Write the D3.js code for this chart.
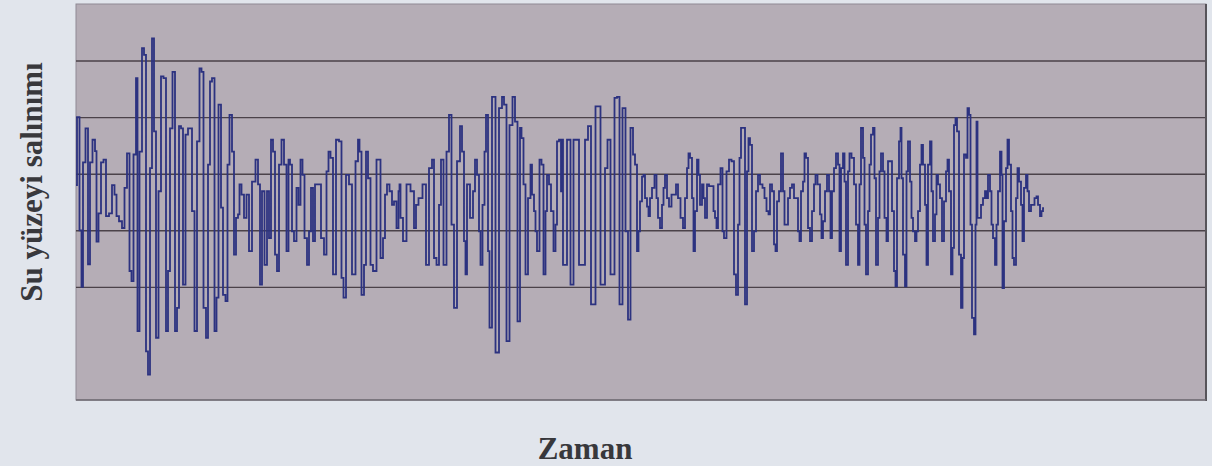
<!DOCTYPE html>
<html>
<head>
<meta charset="utf-8">
<script src="https://cdn.jsdelivr.net/npm/d3@7"></script>
<style>
  body { margin: 0; background: #e1e5ec; }
  svg { display: block; }
</style>
</head>
<body>
<div id="chart"></div>
<script>
// water surface oscillation record
// zaman = time (s), salinim = surface elevation (cm)

var zaman1 = [0, 0.2, 0.5, 0.6, 0.8, 1.1, 1.3, 1.5, 1.8, 2.0, 2.1, 2.4, 2.6, 2.9, 3.1, 3.5, 3.7, 4.0, 4.1, 4.5,
  4.7, 5.0, 5.2, 5.5, 5.6, 5.9, 6.1, 6.2, 6.5, 6.7, 6.9, 7.1, 7.3, 7.5, 7.7, 7.9, 8.1, 8.4, 8.6, 8.9,
  9.1, 9.3, 9.5, 9.8, 10.0, 10.2, 10.4, 10.6, 10.8, 11.1, 11.3, 11.5, 11.7, 12.0, 12.2, 12.5, 12.6, 12.9, 13.1, 13.3,
  13.5, 13.7, 14.0, 14.1, 14.4, 14.6, 14.8, 15.1, 15.2, 15.5, 15.7, 15.9, 16.1];
var salinim1 = [-2, 10, -10, -20, 2, 8, -16, 2, 6, 4, -12, -7, 2, 2.5, -7.5, -7, -2, -3.7, -7.5, -8.4,
  -9.6, -2.5, 3.6, -17.2, -19, 3.4, 16.9, -27.8, 3.9, 22.2, 21, -31.4, -35.5, 1, 23.9, 7.5, -29, -3.1, 17.2, 16.9,
  -27.8, -17.2, 8, 18, -27.8, -23.7, 8.4, 8, -19.6, 6.9, 8, 8, -6.6, -27.8, 5.7, 18.6, 18, -23.7, -29, 1.6,
  16.3, 16.9, -27.8, -21.9, 12.2, -6, -21.4, -22.5, 1.6, 10.4, 3.9, -14.3, -7.8];

var zaman2 = [16.3, 16.4, 16.7, 16.9, 17.2, 17.4, 17.8, 18.1, 18.3, 18.5, 18.7, 19.0, 19.2, 19.4, 19.6, 19.8, 20.0, 20.2, 20.4, 20.7,
  20.9, 21.2, 21.3, 21.5, 21.7, 21.9, 22.2, 22.3, 22.6, 22.7, 23.0, 23.2, 23.4, 23.6, 23.8, 24.0, 24.3, 24.7, 24.9, 25.2,
  25.3, 25.6, 25.8, 26.2, 26.4, 26.7, 26.8, 27.2, 27.4, 27.8, 28.1, 28.3, 28.4, 28.7, 28.9, 29.1, 29.3, 29.6, 29.8, 30.3,
  30.6, 30.8, 31.0, 31.2, 31.5, 31.7, 31.9, 32.2, 32.3];
var salinim2 = [-7.2, -1.9, -3.7, -7.8, -3.7, -13.7, -1.4, 2.5, -1.9, -19.6, -3.1, -16.1, -3.1, -11.4, 6, 3.9, -14.3, -17.2, 1.6, 6,
  1.6, -13.7, 2.5, 1.6, -10.2, -11.9, -2.5, -5.5, 2.5, -0.2, -11.4, -16.1, -10.2, -2.5, -11.9, -1.9, -1.9, -11.4, -14.3, 0.4,
  3.9, 2.8, -17.8, 6, 5.7, -18.4, -21.9, -0.2, -1.9, -17.8, 2.2, 6, 3.9, -21.4, -16.1, 3.9, -0.8, -16.1, -17.2, 2.5,
  -14.9, -11.4, -3.7, -1.9, -3.1, -5.5, -4.9, -9.6, -3.1];

var zaman3 = [32.4, 32.5, 32.9, 33.2, 33.7, 33.9, 34.1, 34.4, 34.9, 35.1, 35.5, 35.7, 35.9, 36.2, 36.4, 36.6, 36.9, 37.2, 37.4, 37.7,
  37.9, 38.3, 38.5, 38.7, 38.9, 39.0, 39.2, 39.6, 39.8, 40.0, 40.2, 40.4, 40.5, 40.8, 40.9, 41.1, 41.3, 41.4, 41.8, 42.1,
  42.5, 42.7, 42.9, 43.2, 43.5, 43.8, 44.0, 44.3, 44.5, 44.6, 44.9, 45.0, 45.4, 45.5, 45.7, 45.9, 46.0, 46.2, 46.5, 46.6,
  46.9, 47.0, 47.2, 47.4, 47.6, 47.9, 48.0, 48.2, 48.4, 48.6];
var salinim3 = [-1.9, -7.8, -11.9, -1.9, -3.1, -9.6, -5.5, -4.3, -1.9, -16.1, 1, 2.5, -14.9, -16.1, -5.5, 2.5, -16.1, 3.9, 10.4, -9,
  -23.7, 2.2, 8.4, 3.9, -11.9, -17.8, -1.9, -7.8, -3.1, 2.5, -0.2, -10.2, -16.1, -5.5, 3.9, 10.4, -13.7, -27.2, 13.6, -31.6,
  11.6, 13.6, 12.2, -29.6, 8.6, 13.6, 9.2, -26.1, 8.1, 6.3, -1.9, -17.8, -4.3, 1.6, -3.7, -6.6, -10.2, -13.7, 2.5, 1.6,
  -17.8, -6.6, -0.2, -1.9, -6.6, -13.7, -9, 5.7, 6, -3.1];

var zaman4 = [48.5, 48.9, 49.3, 49.6, 49.9, 50.7, 51.1, 51.3, 51.7, 52.2, 52.7, 53.1, 53.2, 53.7, 54.0, 54.2, 54.5, 54.8, 55.1, 55.3,
  55.6, 55.8, 56.0, 56.2, 56.3, 56.5, 56.7, 56.8, 57.0, 57.2, 57.3, 57.5, 57.7, 58.0, 58.1, 58.3, 58.5, 58.7, 58.8, 59.0,
  59.2, 59.4, 59.7, 59.9, 60.1, 60.3, 60.6, 60.8, 61.0, 61.2, 61.3, 61.5, 61.7, 61.8, 62.0, 62.2, 62.3, 62.5, 62.7, 62.8,
  63.0, 63.2, 63.4, 63.7, 63.8, 64.0, 64.1, 64.3, 64.6, 64.7];
var salinim4 = [6, -16.1, 6, -19.6, 6, -16.1, 6, 8.4, -23.1, 11.9, -19.6, 1, 6, -17.8, 13.4, 13.6, -23.1, 11.6, -10.2, -25.8,
  8.1, 3.4, 1.6, -13.7, -10.2, -4.9, -0.5, -0.2, -4.3, -5.8, -7.5, -4.3, -2.5, -0.2, -4.3, -7.8, -9.6, -5.5, -2.5, -0.2,
  -4.3, -5.8, -3.7, -3.7, -1.9, -4.3, -7.8, -9.6, -4.3, 1, 3.6, 2.8, -4.3, -13.7, -6.6, 2.5, -0.2, -5.5, -1.9, -4.3,
  -7.8, -1.9, -2.2, -2.2, -6.6, -7.8, -9.6, -1.9, 1, -10.2];

var zaman5 = [64.9, 65.2, 65.4, 65.7, 65.9, 66.1, 66.3, 66.4, 66.6, 66.8, 67.0, 67.2, 67.3, 67.5, 67.7, 67.9, 68.1, 68.3, 68.5, 68.8,
  68.9, 69.2, 69.3, 69.5, 69.7, 69.9, 70.0, 70.2, 70.4, 70.6, 70.8, 70.9, 71.1, 71.3, 71.5, 71.7, 71.9, 72.1, 72.3, 72.4,
  72.6, 72.8, 72.9, 73.1, 73.3, 73.5, 73.7, 73.9, 74.0, 74.3, 74.5, 74.6, 74.8, 75.0, 75.2, 75.4, 75.5, 75.7, 75.9, 76.1,
  76.3, 76.4, 76.6, 76.8, 76.9, 77.1, 77.3, 77.4, 77.7, 77.9, 78.1, 78.3, 78.4, 78.6, 78.8, 78.9, 79.1, 79.3, 79.4, 79.6,
  79.8, 79.9, 80.1, 80.3, 80.4, 80.6, 80.8, 80.9];
var salinim5 = [-11.4, 0.4, 2.5, 2.2, -17.8, -21.4, -9, 2.8, 8.1, 8.1, -23.1, 0.4, 6.3, 5.1, -13.7, -10.2, -3.1, -0.2, -1.9, -2.5,
  -4.3, -6.6, -7.2, -1.9, -3.1, -12.5, -13.7, -4.9, -3.1, 3.6, -3.1, -9, -9, -4.3, -2.5, -1.9, -4.3, -4.3, -10.2, -11.9,
  -3.1, -1.4, 3.6, 2.8, -9.6, -11.9, -6.6, -1.9, -0.2, -1.9, -7.2, -11.4, -8.4, -3.1, -0.2, -3.1, -11.4, -3.1, 1, 3.6,
  1.6, -13.7, 1, 3.6, -1.4, -16.1, 0.4, 3.6, 2.8, -1.9, -9, -16.1, -1.9, 8.1, 2.8, -9, -17.8, -6.6, 1.6, 6.9,
  8.1, -0.8, -16.1, -7.8, 0.4, 3.6, 0.4, -7.8];

var zaman6 = [81.0, 81.1, 81.3, 81.5, 81.7, 81.9, 82.0, 82.2, 82.4, 82.5, 82.6, 82.8, 83.0, 83.1, 83.3, 83.5, 83.6, 83.8, 84.0, 84.1,
  84.3, 84.5, 84.6, 84.8, 85.0, 85.1, 85.3, 85.5, 85.6, 85.8, 86.0, 86.1, 86.3, 86.5, 86.7, 86.9, 87.1, 87.2, 87.4, 87.6,
  87.7, 87.9, 88.0, 88.2, 88.4, 88.6, 88.7, 88.9, 89.1, 89.2, 89.4, 89.5, 89.7, 89.9, 90.0, 90.1, 90.2, 90.4, 90.6, 90.8,
  91.0, 91.1, 91.3, 91.5, 91.6, 91.8, 92.0, 92.1, 92.3, 92.5, 92.6, 92.7, 92.9, 93.1, 93.2, 93.4, 93.6, 93.7, 93.9, 94.1,
  94.2, 94.4, 94.6, 94.7, 94.9, 95.1, 95.2, 95.4, 95.6, 95.7, 96.0, 96.1, 96.3, 96.5, 96.6, 96.8];
var salinim6 = [-7.8, -11.9, 2.2, 2.2, -6.6, -17.2, -19.9, -0.8, 5.7, 8.1, -0.8, -14.3, -19.9, 0.4, 5.7, -1.4, -7.8, -10.2, -11.9, -10.2,
  -6.6, 1.6, 5.1, 1.6, -5.5, -16.1, 1.6, 5.7, -3.1, -11.9, -7.2, -0.2, -1.9, -4.3, -11.9, -4.9, 0.4, 2.5, -3.1, -17.8,
  -13.1, 8.6, 9.8, 7.5, -14.3, -23.7, -14.9, 3.4, 2.8, 11.6, 10.4, -9, -25.5, -28.4, -9, 9.2, -7.8, -7.8, -5.5, -4.3,
  -3.1, -4.3, -0.2, -3.1, -9, -11.4, -16.1, -9, -3.1, 3.9, -0.2, -20.2, -8.4, 1, 6, 1.6, -6.6, -14.9, -16.1, -4.3,
  1, -1.4, -5.5, -11.9, -2.5, -0.2, -3.1, -6.6, -5.5, -5.5, -4.3, -4, -5.5, -7.5, -6.6, -6.1];

var zaman = [].concat(zaman1, zaman2, zaman3, zaman4, zaman5, zaman6);
var salinim = [].concat(salinim1, salinim2, salinim3, salinim4, salinim5, salinim6);

var gridValues = [20, 10, 0, -10, -20];

var W = 1212, H = 466;
var plot = { left: 76, top: 4, right: 1206, bottom: 400 };

var svg = d3.select("#chart").append("svg")
    .attr("width", W)
    .attr("height", H);

var x = d3.scaleLinear().domain([0, 113]).range([plot.left, plot.right]);
var y = d3.scaleLinear().domain([-40, 30]).range([plot.bottom, plot.top]);

// plot area
svg.append("rect")
    .attr("x", plot.left)
    .attr("y", plot.top)
    .attr("width", plot.right - plot.left)
    .attr("height", plot.bottom - plot.top)
    .attr("fill", "#b5adb6")
    .attr("stroke", "#8f8a93")
    .attr("stroke-width", 1);

// gridlines through a y axis with full-width ticks
svg.append("g")
    .attr("transform", "translate(" + plot.left + ",0)")
    .call(d3.axisRight(y).tickValues(gridValues).tickSize(plot.right - plot.left).tickFormat(""))
    .call(function(g) { g.select(".domain").remove(); })
    .selectAll("line")
    .attr("stroke", "#4b4249")
    .attr("stroke-width", 1.4);

// right and bottom frame edges are darker in the picture
svg.append("line")
    .attr("x1", plot.right).attr("x2", plot.right)
    .attr("y1", plot.top).attr("y2", plot.bottom + 1)
    .attr("stroke", "#57545a").attr("stroke-width", 2);
svg.append("line")
    .attr("x1", plot.left).attr("x2", plot.right)
    .attr("y1", plot.bottom).attr("y2", plot.bottom)
    .attr("stroke", "#6e6a72").attr("stroke-width", 1.5);

var points = zaman.map(function(t, i) { return [t, salinim[i]]; })
    .filter(function(d) { return d[1] !== undefined; });

var line = d3.line()
    .x(function(d) { return x(d[0]); })
    .y(function(d) { return y(d[1]); })
    .curve(d3.curveStep);

svg.append("path")
    .datum(points)
    .attr("d", line)
    .attr("fill", "none")
    .attr("stroke", "#2c3280")
    .attr("stroke-width", 1.8);

// axis titles
svg.append("text")
    .attr("x", 585)
    .attr("y", 459)
    .attr("text-anchor", "middle")
    .attr("font-family", "Liberation Serif, Times New Roman, serif")
    .attr("font-weight", "bold")
    .attr("font-size", 31)
    .attr("fill", "#38383c")
    .text("Zaman");

svg.append("text")
    .attr("transform", "translate(42,182) rotate(-90)")
    .attr("text-anchor", "middle")
    .attr("font-family", "Liberation Serif, Times New Roman, serif")
    .attr("font-weight", "bold")
    .attr("font-size", 31)
    .attr("fill", "#38383c")
    .text("Su yüzeyi salınımı");
</script>
</body>
</html>
